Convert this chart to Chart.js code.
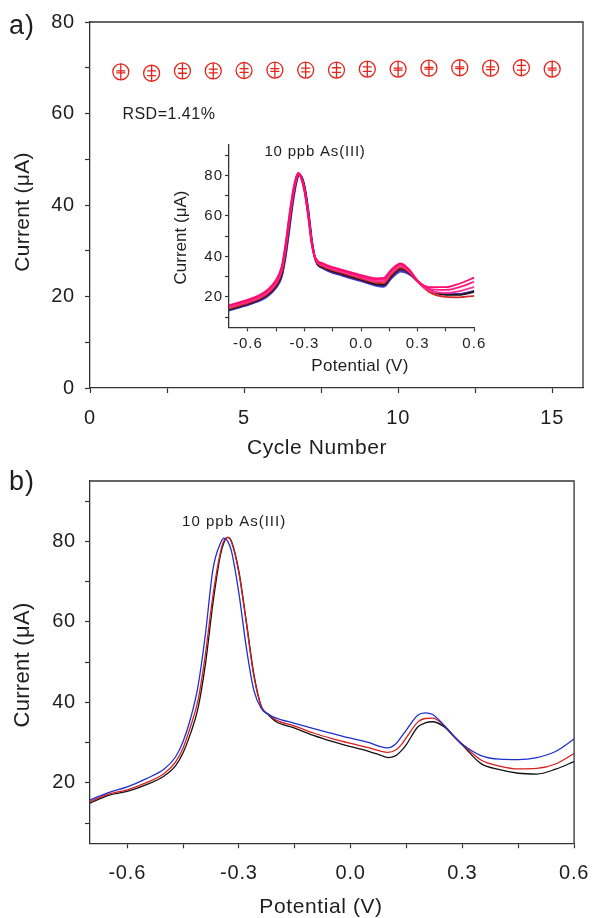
<!DOCTYPE html>
<html>
<head>
<meta charset="utf-8">
<script src="https://cdn.jsdelivr.net/npm/chart.js@4.4.0/dist/chart.umd.min.js"></script>
<style>
  html, body { margin: 0; padding: 0; background: #fff; }
  #wrap { position: relative; width: 601px; height: 918px; overflow: hidden; background: #fff; }
  canvas { position: absolute; }
  #chartA { left: 0; top: 0; }
  #chartB { left: 0; top: 460px; }
  #inset { left: 160px; top: 130px; }
</style>
</head>
<body>
<div id="wrap">
  <canvas id="chartA" width="601" height="460"></canvas>
  <canvas id="chartB" width="601" height="458"></canvas>
  <canvas id="inset" width="340" height="250"></canvas>
</div>
<script>
// Panel (a): As(III) peak current over repeated cycles
const cycles = [1, 2, 3, 4, 5, 6, 7, 8, 9, 10, 11, 12, 13, 14, 15];
const peakCurrent = [69.1, 68.8, 69.3, 69.3, 69.4, 69.5, 69.5, 69.5, 69.7, 69.7, 69.9, 70.0, 69.9, 70.0, 69.7];
const peakError = [0.2, 0.5, 0.5, 0.4, 0.4, 0.3, 0.4, 0.5, 0.5, 0.2, 0.2, 0.2, 0.3, 0.5, 0.2];
const cycleTicks = [0, 2.5, 5, 7.5, 10, 12.5, 15];
const currentTicksA = [0, 10, 20, 30, 40, 50, 60, 70, 80];

// Panel (b): three stripping voltammograms, 10 ppb As(III)
const potential = [-0.70, -0.65, -0.60, -0.55, -0.50, -0.47, -0.45, -0.43, -0.41, -0.39, -0.37, -0.35, -0.34, -0.33,
  -0.32, -0.30, -0.28, -0.26, -0.24, -0.22, -0.20, -0.15, -0.10, -0.05, 0.00, 0.05, 0.08, 0.10, 0.12, 0.135, 0.15,
  0.18, 0.20, 0.22, 0.25, 0.28, 0.30, 0.35, 0.40, 0.45, 0.50, 0.55, 0.60];
const currentBlack = [15.0, 16.9, 17.9, 19.5, 21.8, 24.3, 27.5, 32.3, 38.5, 49.5, 64.5, 76.5, 79.8, 81.0,
  80.0, 72.5, 60.0, 47.0, 39.0, 36.8, 35.2, 33.6, 31.8, 30.3, 29.0, 27.8, 26.9, 26.3, 26.7, 27.9, 29.6,
  33.9, 34.9, 35.2, 34.0, 31.2, 29.4, 24.8, 23.3, 22.4, 22.2, 23.4, 25.3];
const currentRed = [15.4, 17.2, 18.3, 20.0, 22.4, 25.2, 28.7, 34.0, 40.5, 52.0, 66.5, 77.2, 80.2, 81.0,
  79.8, 72.0, 59.5, 46.5, 39.0, 37.0, 35.6, 34.1, 32.4, 31.0, 29.8, 28.7, 27.9, 27.6, 28.1, 29.4, 31.3,
  35.1, 36.0, 36.1, 34.3, 31.3, 29.6, 25.7, 24.2, 23.5, 23.6, 24.7, 27.3];
const currentBlue = [15.8, 17.6, 19.0, 21.0, 23.5, 26.5, 30.3, 36.0, 44.0, 57.0, 73.0, 79.5, 80.8, 80.0,
  77.5, 67.0, 53.5, 43.0, 38.5, 37.0, 36.1, 34.8, 33.5, 32.3, 31.1, 30.0, 29.0, 28.7, 29.6, 31.3, 33.2,
  36.8, 37.4, 37.0, 34.4, 31.4, 29.6, 26.8, 25.9, 25.8, 26.3, 27.8, 30.9];
const potentialTicks = [-0.6, -0.45, -0.3, -0.15, 0, 0.15, 0.3, 0.45, 0.6];
const currentTicksB = [10, 20, 30, 40, 50, 60, 70, 80, 90];

// Inset of (a): overlaid voltammograms of the cycles
const insetPotential = [-0.70, -0.62, -0.55, -0.50, -0.45, -0.42, -0.40, -0.38, -0.36, -0.34, -0.33, -0.32, -0.30,
  -0.28, -0.26, -0.24, -0.20, -0.10, 0.00, 0.08, 0.12, 0.16, 0.21, 0.26, 0.30, 0.36, 0.45, 0.52, 0.60];
const insetBlue = [13.2, 15.4, 17.6, 20.0, 24.5, 30.0, 39.5, 53.0, 67.0, 77.5, 79.8, 80.0, 75.0,
  63.5, 48.0, 38.0, 34.0, 30.5, 27.8, 25.5, 25.0, 29.0, 32.5, 30.8, 27.5, 23.5, 21.5, 21.5, 23.0];
const insetPurple = [13.6, 15.7, 17.9, 20.4, 25.0, 30.8, 40.8, 54.5, 68.3, 78.2, 80.2, 80.0, 74.5,
  62.5, 47.0, 37.8, 34.2, 30.8, 28.1, 25.9, 25.5, 29.6, 33.2, 31.2, 27.7, 23.6, 21.3, 21.3, 22.8];
const insetBlack = [13.8, 16.0, 18.3, 20.8, 25.5, 31.5, 42.0, 56.0, 69.5, 78.8, 80.5, 80.0, 74.0,
  61.5, 46.5, 37.8, 34.5, 31.2, 28.5, 26.3, 26.0, 30.2, 33.8, 31.5, 27.8, 23.5, 21.0, 21.0, 22.5];
const insetRed = [14.2, 16.4, 18.7, 21.3, 26.2, 32.5, 43.0, 57.0, 70.3, 79.2, 80.7, 79.8, 73.5,
  61.0, 46.0, 38.0, 35.0, 31.8, 29.0, 27.0, 26.8, 31.0, 34.5, 31.8, 27.5, 22.5, 20.0, 19.8, 20.5];
const insetPink1 = [14.9, 17.0, 19.3, 22.0, 27.0, 33.5, 44.5, 58.5, 71.2, 79.6, 80.8, 79.6, 73.0,
  60.5, 45.8, 38.3, 35.5, 32.3, 29.6, 27.8, 27.8, 32.0, 35.3, 32.2, 27.6, 23.2, 22.0, 22.8, 25.0];
const insetPink2 = [15.4, 17.5, 19.9, 22.6, 27.8, 34.5, 45.5, 59.5, 72.0, 80.0, 81.0, 79.5, 72.5,
  60.0, 45.5, 38.6, 36.0, 32.8, 30.2, 28.5, 28.6, 32.8, 36.0, 32.6, 27.8, 24.0, 23.5, 24.8, 27.5];
const insetPink3 = [15.9, 18.0, 20.4, 23.2, 28.5, 35.3, 46.5, 60.5, 72.8, 80.3, 81.2, 79.4, 72.0,
  59.5, 45.2, 39.0, 36.5, 33.3, 30.8, 29.2, 29.4, 33.5, 36.6, 33.0, 28.0, 24.8, 24.8, 26.5, 29.5];

const FONT = '"Liberation Sans", Arial, Helvetica, sans-serif';
const INK = '#1e1e1e';
const AXIS = '#333';
const RED = '#e3241b';

Chart.defaults.font.family = FONT;

function isMajor(v, step) {
  return Math.abs(Math.round(v / step) * step - v) < 1e-6;
}

// linear axis with fixed box size, outward ticks, minor ticks left unlabelled
function axis(o) {
  return {
    type: 'linear',
    min: o.min,
    max: o.max,
    afterBuildTicks: (s) => { s.ticks = o.ticks.map((v) => ({ value: v })); },
    afterFit: (s) => { if (o.horizontal) s.height = o.size; else s.width = o.size; },
    grid: { drawOnChartArea: false, drawTicks: true, tickLength: o.tickLength, tickColor: AXIS, tickWidth: 1.2 },
    border: { display: true, color: AXIS, width: 1.3 },
    ticks: {
      autoSkip: false,
      maxRotation: 0,
      padding: o.pad,
      color: INK,
      font: { family: FONT, size: o.fontSize },
      callback: (v) => (isMajor(v, o.major) ? o.fmt(v) : ''),
    },
    title: { display: false },
  };
}

// tick labels in the original are set a little wide
function spacingPlugin(px) {
  return {
    id: 'spacing',
    beforeDraw(chart) { chart.ctx.letterSpacing = px; },
  };
}

const framePlugin = {
  id: 'frame',
  afterDraw(chart) {
    const { ctx, chartArea: a } = chart;
    ctx.save();
    ctx.strokeStyle = AXIS;
    ctx.lineWidth = 1.3;
    ctx.beginPath();
    ctx.moveTo(a.left, a.top);
    ctx.lineTo(a.right, a.top);
    ctx.lineTo(a.right, a.bottom);
    ctx.stroke();
    ctx.restore();
  },
};

// bar through each marker plus small error caps
const errorBarPlugin = {
  id: 'errorBars',
  afterDatasetsDraw(chart) {
    const { ctx } = chart;
    const ys = chart.scales.y;
    const meta = chart.getDatasetMeta(0);
    ctx.save();
    ctx.strokeStyle = RED;
    ctx.lineWidth = 1.3;
    meta.data.forEach((pt, i) => {
      const r = pt.options.radius;
      ctx.beginPath();
      ctx.moveTo(pt.x, pt.y - r);
      ctx.lineTo(pt.x, pt.y + r);
      [peakCurrent[i] - peakError[i], peakCurrent[i] + peakError[i]].forEach((v) => {
        const yy = ys.getPixelForValue(v);
        ctx.moveTo(pt.x - 4.5, yy);
        ctx.lineTo(pt.x + 4.5, yy);
      });
      ctx.stroke();
    });
    ctx.restore();
  },
};

// free text: panel letters, axis titles, annotations
function notesPlugin(items) {
  return {
    id: 'notes',
    afterDraw(chart) {
      const { ctx } = chart;
      items.forEach((n) => {
        const x = n.px ? n.px[0] : chart.scales.x.getPixelForValue(n.at[0]);
        const y = n.px ? n.px[1] : chart.scales.y.getPixelForValue(n.at[1]);
        ctx.save();
        ctx.translate(x, y);
        if (n.rotate) ctx.rotate(n.rotate);
        ctx.font = `${n.size}px ${FONT}`;
        ctx.fillStyle = INK;
        ctx.textAlign = n.align || 'center';
        ctx.textBaseline = n.baseline || 'middle';
        ctx.letterSpacing = n.spacing || '0px';
        ctx.fillText(n.text, 0, 0);
        ctx.restore();
      });
    },
  };
}

function curve(xs, ys, color, width) {
  return {
    data: xs.map((x, i) => ({ x, y: ys[i] })),
    borderColor: color,
    borderWidth: width,
    pointRadius: 0,
    fill: false,
    cubicInterpolationMode: 'monotone',
  };
}

const baseOptions = {
  responsive: false,
  animation: false,
  events: [],
  plugins: { legend: { display: false }, tooltip: { enabled: false } },
};
const UP = -Math.PI / 2;

// ---- panel (a)
new Chart(document.getElementById('chartA'), {
  type: 'scatter',
  data: {
    datasets: [{
      data: cycles.map((c, i) => ({ x: c, y: peakCurrent[i] })),
      pointStyle: 'circle',
      pointRadius: 8,
      pointBorderColor: RED,
      pointBackgroundColor: 'rgba(0,0,0,0)',
      pointBorderWidth: 1.3,
    }],
  },
  options: {
    ...baseOptions,
    layout: { padding: { left: 0, top: 22, right: 18, bottom: 0 } },
    scales: {
      x: axis({
        horizontal: true, min: 0, max: 16, ticks: cycleTicks, major: 5, fmt: (v) => String(v),
        size: 72, tickLength: 5, pad: 13, fontSize: 20,
      }),
      y: axis({
        min: 0, max: 80, ticks: currentTicksA, major: 20, fmt: (v) => String(v),
        size: 90, tickLength: 5, pad: 10, fontSize: 20,
      }),
    },
  },
  plugins: [spacingPlugin('0.8px'), framePlugin, errorBarPlugin, notesPlugin([
    { text: 'a)', px: [9, 34], size: 27, align: 'left', baseline: 'alphabetic', spacing: '1px' },
    { text: 'RSD=1.41%', at: [2.56, 59.7], size: 16, spacing: '0.5px' },
    { text: 'Cycle Number', px: [317, 448], size: 21, spacing: '0.6px' },
    { text: 'Current (μA)', px: [23, 212], size: 21, rotate: UP, spacing: '0.3px' },
  ])],
});

// ---- inset
const insetSeries = [
  [insetPink3, '#ff0a6c'],
  [insetPink2, '#ff1a80'],
  [insetPink1, '#ff3399'],
  [insetRed, '#d42a2a'],
  [insetBlack, '#1a1a1a'],
  [insetPurple, '#6a1b9a'],
  [insetBlue, '#2b3fd6'],
];
new Chart(document.getElementById('inset'), {
  type: 'line',
  data: { datasets: insetSeries.map(([ys, c]) => curve(insetPotential, ys, c, 1.8)) },
  options: {
    ...baseOptions,
    layout: { padding: { left: 0, top: 15, right: 25.7, bottom: 0 } },
    scales: {
      x: axis({
        horizontal: true, min: -0.7, max: 0.6, ticks: potentialTicks, major: 0.3, fmt: (v) => v.toFixed(1),
        size: 52.7, tickLength: 4, pad: 4, fontSize: 15,
      }),
      y: axis({
        min: 5, max: 95, ticks: currentTicksB, major: 20, fmt: (v) => String(v),
        size: 69, tickLength: 4, pad: 2, fontSize: 15,
      }),
    },
  },
  plugins: [spacingPlugin('1px'), notesPlugin([
    { text: '10 ppb As(III)', at: [-0.244, 91.5], size: 15, spacing: '0.8px' },
    { text: 'Potential (V)', px: [200, 236], size: 17, spacing: '0.3px' },
    { text: 'Current (μA)', px: [21, 107.5], size: 17, rotate: UP },
  ])],
});

// ---- panel (b)
new Chart(document.getElementById('chartB'), {
  type: 'line',
  data: {
    datasets: [
      curve(potential, currentBlue, '#1f2fd0', 1.3),
      curve(potential, currentRed, '#d81e1e', 1.3),
      curve(potential, currentBlack, '#111111', 1.3),
    ],
  },
  options: {
    ...baseOptions,
    layout: { padding: { left: 0, top: 19, right: 17.5, bottom: 0 } },
    scales: {
      x: axis({
        horizontal: true, min: -0.7, max: 0.6, ticks: potentialTicks, major: 0.3, fmt: (v) => v.toFixed(1),
        size: 74.7, tickLength: 5, pad: 13, fontSize: 20,
      }),
      y: axis({
        min: 5, max: 95, ticks: currentTicksB, major: 20, fmt: (v) => String(v),
        size: 90, tickLength: 5, pad: 9, fontSize: 20,
      }),
    },
  },
  plugins: [spacingPlugin('0.8px'), framePlugin, notesPlugin([
    { text: 'b)', px: [9, 30], size: 27, align: 'left', baseline: 'alphabetic', spacing: '1px' },
    { text: '10 ppb As(III)', at: [-0.313, 84.8], size: 15, spacing: '1px' },
    { text: 'Potential (V)', px: [321, 447], size: 21, spacing: '0.6px' },
    { text: 'Current (μA)', px: [23, 205], size: 22, rotate: UP, spacing: '0.3px' },
  ])],
});
</script>
</body>
</html>
